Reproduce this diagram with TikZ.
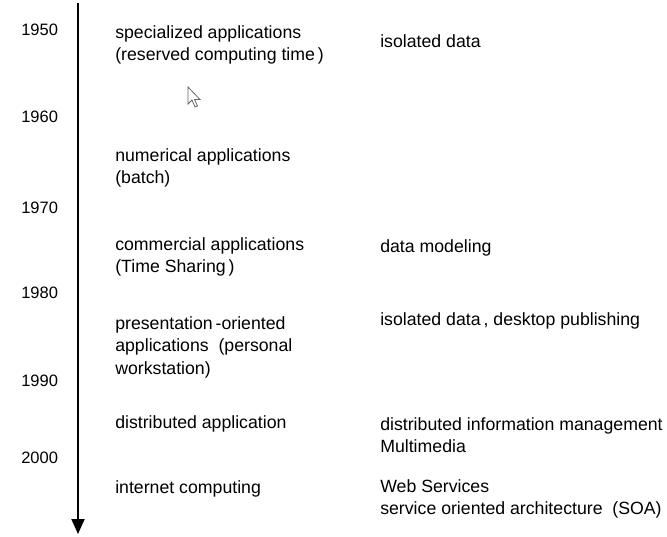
\documentclass[tikz,border=0pt]{standalone}
\usepackage{fontspec}
\setmainfont{Liberation Sans}
\usepackage{tikz}
\usetikzlibrary{arrows.meta}

\begin{document}
\begin{tikzpicture}[
            x = 1pt, y = -1pt, % one unit per pixel, y going down
            > = {Triangle[width=13pt, length=15pt]}, % arrow head style
            semithick % line style
        ]

        \tikzstyle{year text}=[
            anchor = west,
            inner sep = 0pt,
            font = \fontsize{16.5}{20}\selectfont
        ]
        \tikzstyle{app text}=[
            anchor = west,
            align = left,
            inner sep = 0pt,
            font = \fontsize{17.7}{22.5}\selectfont
        ]
        \tikzstyle{data text}=[app text]

        \useasboundingbox (0, 0) rectangle (667, 536);

        % time axis
        \coordinate (top) at (78, 3);
        \coordinate (bottom) at (78, 534);
        \draw[->, line width = 2pt] (top) -- (bottom);

        % years
        \node[year text] (y1950) at (21, 30) {1950};
        \node[year text] (y1960) at (21, 117) {1960};
        \node[year text] (y1970) at (21, 208) {1970};
        \node[year text] (y1980) at (21, 293) {1980};
        \node[year text] (y1990) at (21, 381) {1990};
        \node[year text] (y2000) at (21, 458) {2000};

        % applications
        \node[app text] (special) at (115, 45) {specialized applications\\(reserved computing time\,)};
        \node[app text] (numeric) at (115, 168) {numerical applications\\(batch)};
        \node[app text] (commerce) at (115, 257) {commercial applications\\(Time Sharing\,)};
        \node[app text] (present) at (115, 347) {presentation\,-oriented\\applications\ \ (personal\\workstation)};
        \node[app text] (distrib) at (115, 424) {distributed application};
        \node[app text] (internet) at (115, 489) {internet computing};

        % data
        \node[data text] (isolated) at (380, 41) {isolated data};
        \node[data text] (modeling) at (380, 248) {data modeling};
        \node[data text] (desktop) at (380, 321) {isolated data\,, desktop publishing};
        \node[data text] (infoman) at (380, 435) {distributed information management\\Multimedia};
        \node[data text] (webserv) at (380, 499) {Web Services\\service oriented architecture\ \ (SOA)};

        % mouse pointer
        \draw[black!60, fill = white, line width = 0.8pt, line join = miter]
            (188, 87) -- ++(0, 17) -- ++(4, -4) -- ++(3, 7) -- ++(2.5, -1)
            -- ++(-3, -6.5) -- ++(5.5, 0) -- cycle;

        %\draw[red, dashed] (0, 268) -- (667, 268);
    \end{tikzpicture}
\end{document}
